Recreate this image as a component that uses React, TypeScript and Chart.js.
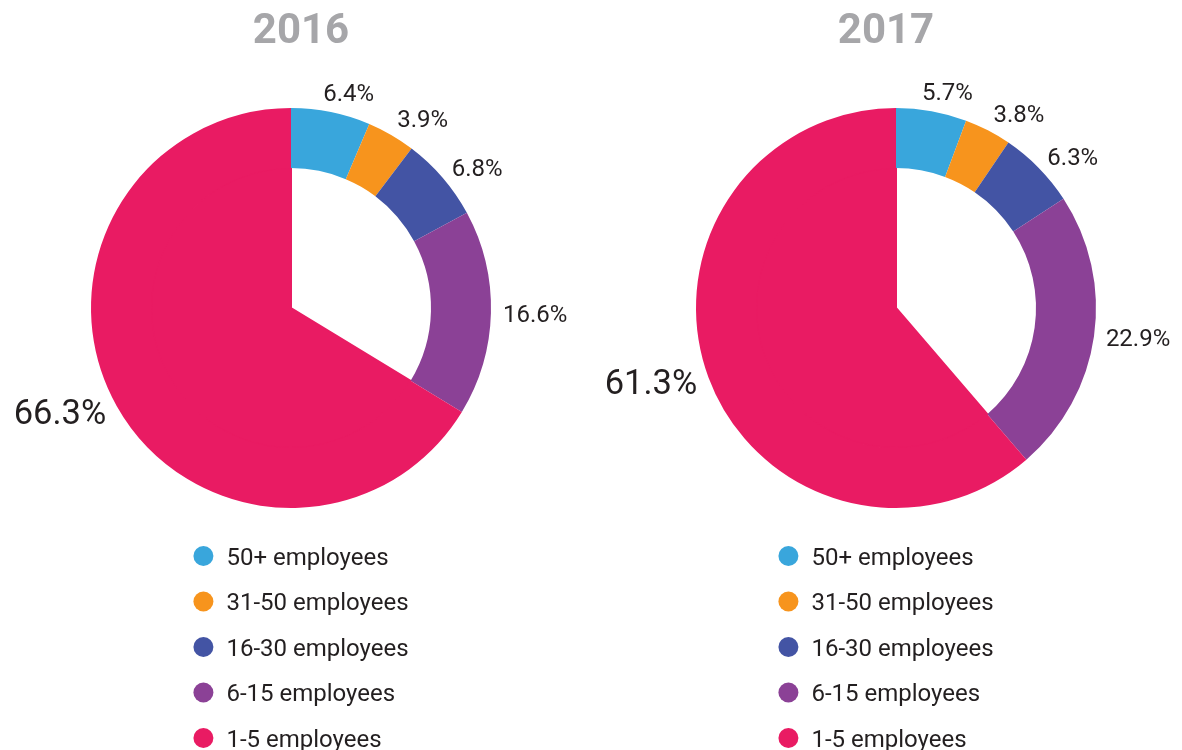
import React, { useEffect, useRef } from 'react';
import { Chart, registerables } from 'chart.js';

Chart.register(...registerables);

// ---- data ----
const categories = ['50+ employees', '31-50 employees', '16-30 employees', '6-15 employees', '1-5 employees'];
const years = ['2016', '2017'];
const values2016 = [6.4, 3.9, 6.8, 16.6, 66.3];
const values2017 = [5.7, 3.8, 6.3, 22.9, 61.3];
const sliceColors = ['#39a6dc', '#f7941d', '#4354a4', '#8b4196', '#e91b63'];

const FONT = 'Roboto, "Noto Sans", sans-serif';
const TEXT_COLOR = '#231f20';
const TITLE_COLOR = '#a6a6a9';
const CANVAS_W = 602;
const CANVAS_H = 750;
const RADIUS = 200;

const capHeight = (size: number) => size * 0.711;

const outsideLabels = {
  id: 'outsideLabels',
  afterDatasetsDraw(chart: any) {
    const meta = chart.getDatasetMeta(0);
    const data = chart.data.datasets[0].data as number[];
    const max = Math.max(...data);
    const ctx = chart.ctx as CanvasRenderingContext2D;
    ctx.save();
    meta.data.forEach((arc: any, i: number) => {
      const p = arc.getProps(['x', 'y', 'startAngle', 'endAngle', 'outerRadius'], true);
      const mid = (p.startAngle + p.endAngle) / 2;
      const v = data[i];
      const size = v === max ? 34.5 : 24;
      ctx.font = `${size}px ${FONT}`;
      const text = v.toFixed(1) + '%';
      const w = ctx.measureText(text).width;
      const h = capHeight(size);
      const r = p.outerRadius + 12;
      const c = Math.cos(mid);
      const s = Math.sin(mid);
      const ax = p.x + c * r;
      const ay = p.y + s * r;
      const fx = Math.max(-1, Math.min(1, 3 * c));
      const fy = Math.sign(s) * Math.max(0, (Math.abs(s) - 0.5) * 2);
      const cx = ax + (fx * w) / 2;
      const cy = ay + (fy * h) / 2;
      ctx.fillStyle = TEXT_COLOR;
      ctx.textAlign = 'center';
      ctx.textBaseline = 'alphabetic';
      ctx.fillText(text, cx, cy + h / 2);
    });
    ctx.restore();
  },
};

const decor = {
  id: 'decor',
  afterDraw(chart: any, _args: any, opts: any) {
    const ctx = chart.ctx as CanvasRenderingContext2D;
    const centerX = opts.centerX as number;
    ctx.save();
    // title
    ctx.font = `bold 42px ${FONT}`;
    ctx.fillStyle = TITLE_COLOR;
    ctx.textAlign = 'center';
    ctx.textBaseline = 'alphabetic';
    ctx.fillText(opts.title, centerX, 43);

    // legend (vertical list, left aligned, block centred on centerX)
    const labels = chart.data.labels as string[];
    const colors = chart.data.datasets[0].backgroundColor as string[];
    const fontSize = 24;
    ctx.font = `${fontSize}px ${FONT}`;
    const maxW = Math.max(...labels.map((l) => ctx.measureText(l).width));
    const dot = 10;
    const gap = 13;
    const blockW = dot * 2 + gap + maxW;
    const left = centerX - blockW / 2;
    const top = chart.chartArea.bottom + 48;
    const rowH = 45.5;
    labels.forEach((label, i) => {
      const cy = top + i * rowH;
      ctx.beginPath();
      ctx.arc(left + dot, cy, dot, 0, Math.PI * 2);
      ctx.fillStyle = colors[i];
      ctx.fill();
      ctx.fillStyle = TEXT_COLOR;
      ctx.textAlign = 'left';
      ctx.fillText(label, left + dot * 2 + gap, cy + capHeight(fontSize) / 2);
    });
    ctx.restore();
  },
};

type PieProps = { title: string; values: number[]; left: number; pieOffset: number };

function SplitPie({ title, values, left, pieOffset }: PieProps) {
  const ref = useRef<HTMLCanvasElement>(null);
  useEffect(() => {
    if (!ref.current) return;
    const maxIdx = values.indexOf(Math.max(...values));
    const innerColors = sliceColors.map((c, i) => (i === maxIdx ? c : 'rgba(0,0,0,0)'));
    const centerX = CANVAS_W / 2;
    const pieX = centerX + pieOffset;
    const chart = new Chart(ref.current, {
      type: 'pie',
      data: {
        labels: categories,
        datasets: [
          {
            data: values,
            backgroundColor: sliceColors,
            borderWidth: 0,
            weight: 3,
          },
          {
            data: values,
            backgroundColor: innerColors,
            borderColor: innerColors,
            borderWidth: 2,
            weight: 7,
          },
        ],
      },
      options: {
        responsive: false,
        animation: false,
        events: [],
        layout: {
          padding: {
            left: pieX - RADIUS,
            right: CANVAS_W - (pieX + RADIUS),
            top: 108,
            bottom: CANVAS_H - 508,
          },
        },
        plugins: {
          legend: { display: false },
          tooltip: { enabled: false },
          title: { display: false },
          decor: { title, centerX },
        } as any,
      },
      plugins: [outsideLabels, decor],
    });
    return () => chart.destroy();
  }, [title, values, left, pieOffset]);
  return (
    <canvas
      ref={ref}
      width={CANVAS_W}
      height={CANVAS_H}
      style={{ position: 'absolute', left, top: 0, width: CANVAS_W, height: CANVAS_H }}
    />
  );
}

export default function App() {
  useEffect(() => {
    document.body.style.margin = '0';
    document.body.style.background = '#ffffff';
  }, []);
  return (
    <div style={{ position: 'absolute', left: 0, top: 0, width: 1182, height: 750, background: '#ffffff', overflow: 'hidden' }}>
      <SplitPie title={years[0]} values={values2016} left={0} pieOffset={-10} />
      <SplitPie title={years[1]} values={values2017} left={585} pieOffset={10} />
    </div>
  );
}
